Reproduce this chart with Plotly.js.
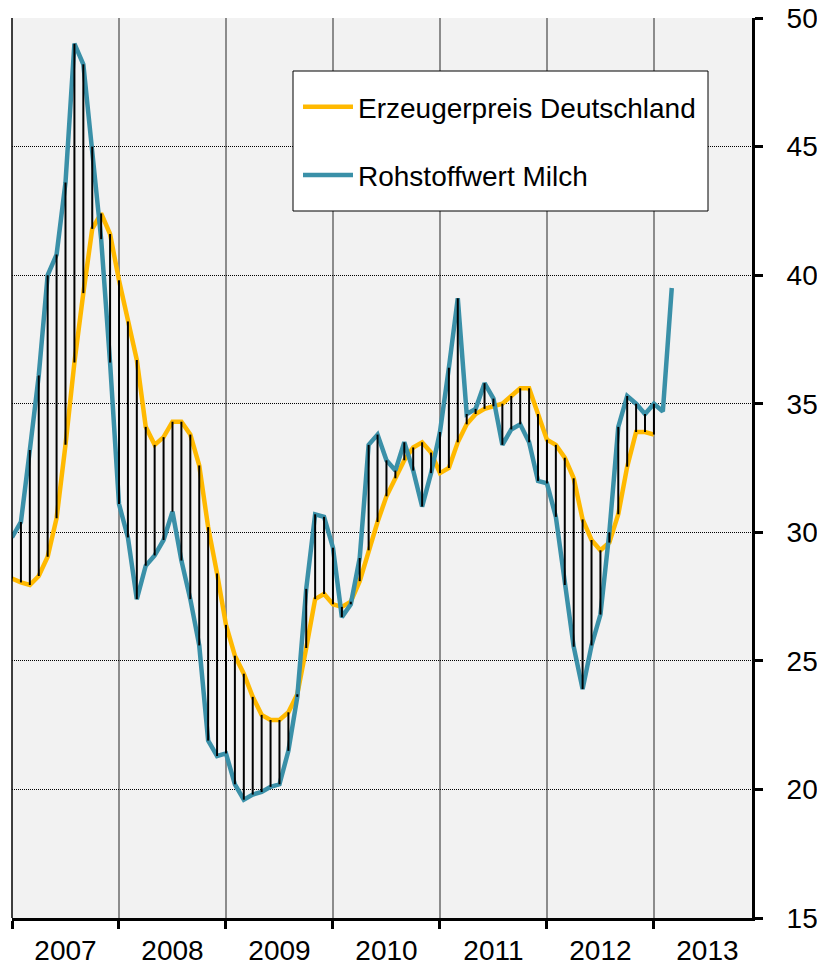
<!DOCTYPE html>
<html>
<head>
<meta charset="utf-8">
<script src="https://cdn.plot.ly/plotly-3.0.1.min.js"></script>
<style>
  html, body { margin: 0; padding: 0; background: #fff; }
  #chart { width: 817px; height: 966px; }
</style>
</head>
<body>
<div id="chart"></div>
<script>
// Monatswerte ab Januar 2007 (Cent/kg)
const erzeugerpreis = [
  28.2, 28.05, 27.95, 28.3, 29.05, 30.55, 33.4, 36.6, 39.3, 41.8, 42.4, 41.6,
  39.8, 38.2, 36.7, 34.1, 33.4, 33.7, 34.3, 34.3, 33.8, 32.6, 30.2, 28.4,
  26.4, 25.2, 24.5, 23.6, 22.9, 22.7, 22.7, 23.0, 23.7, 25.5, 27.4, 27.6,
  27.2, 27.1, 27.3, 28.1, 29.3, 30.4, 31.4, 32.1, 32.8, 33.3, 33.5, 33.1,
  32.3, 32.5, 33.5, 34.2, 34.6, 34.8, 34.9, 35.0, 35.3, 35.6, 35.6, 34.6,
  33.6, 33.4, 32.9, 32.1, 30.5, 29.7, 29.3, 29.6, 30.7, 32.55, 33.9, 33.9,
  33.8
];

const rohstoffwert = [
  29.8, 30.4, 33.2, 36.1, 40.0, 40.8, 43.6, 49.0, 48.2, 45.0, 41.4, 36.6,
  31.1, 29.8, 27.4, 28.7, 29.1, 29.7, 30.8, 28.9, 27.4, 25.6, 21.9, 21.3,
  21.4, 20.2, 19.6, 19.8, 19.9, 20.1, 20.2, 21.5, 23.6, 27.8, 30.7, 30.6,
  29.4, 26.7, 27.2, 29.0, 33.4, 33.8, 32.8, 32.4, 33.5, 32.4, 31.0, 32.3,
  33.9, 36.4, 39.1, 34.6, 34.8, 35.8, 35.2, 33.4, 34.0, 34.2, 33.5, 32.0,
  31.9, 30.6, 27.95, 25.55, 23.9, 25.6, 26.8, 30.0, 34.1, 35.3, 35.0, 34.6,
  35.0, 34.7, 39.5
];

const years = ["2007", "2008", "2009", "2010", "2011", "2012", "2013"];
const yearLabelPos = [6, 18, 30, 42, 54, 66, 78];
const yearStarts = [0, 12, 24, 36, 48, 60, 72];

const FONT = "Liberation Sans, Arial, sans-serif";
const GELB = "#FFB900";
const BLAU = "#3A90A8";

// Monatsindex als x-Werte
const monate = rohstoffwert.map((_, i) => i);

// Senkrechte Verbindungslinien zwischen beiden Reihen
const dropX = [];
const dropY = [];
erzeugerpreis.forEach((v, i) => {
  dropX.push(i, i, null);
  dropY.push(v, rohstoffwert[i], null);
});

const traceErzeuger = {
  x: monate.slice(0, erzeugerpreis.length),
  y: erzeugerpreis,
  mode: "lines",
  name: "Erzeugerpreis Deutschland",
  legendgroup: "a",
  line: { color: GELB, width: 4.5 },
  hoverinfo: "skip",
};

const traceRohstoff = {
  x: monate,
  y: rohstoffwert,
  mode: "lines",
  name: "Rohstoffwert Milch",
  legendgroup: "b",
  line: { color: BLAU, width: 4.5 },
  hoverinfo: "skip",
};

const traceDrop = {
  x: dropX,
  y: dropY,
  mode: "lines",
  showlegend: false,
  line: { color: "#000", width: 2 },
  hoverinfo: "skip",
  connectgaps: false,
};

// Unsichtbare Spur, damit die zweite x-Achse (Jahresbeschriftung) gezeichnet wird
const traceLabels = {
  x: [0, 83],
  y: [15, 15],
  xaxis: "x2",
  mode: "markers",
  marker: { opacity: 0 },
  showlegend: false,
  hoverinfo: "skip",
};

// Legendenrahmen in Pixeln der Plotfläche (12..752, 18..918)
const px = (x) => (x - 12) / 740;
const py = (y) => (918 - y) / 900;

const layout = {
  width: 817,
  height: 966,
  margin: { l: 12, r: 65, t: 18, b: 48 },
  paper_bgcolor: "#fff",
  plot_bgcolor: "#f2f2f2",
  font: { family: FONT, size: 28, color: "#000" },
  showlegend: true,
  legend: {
    x: px(298),
    y: py(82),
    xanchor: "left",
    yanchor: "top",
    bgcolor: "rgba(0,0,0,0)",
    borderwidth: 0,
    itemwidth: 50,
    font: { family: FONT, size: 28, color: "#000" },
    traceorder: "grouped",
    tracegroupgap: 29,
  },
  xaxis: {
    range: [0, 83],
    showgrid: true,
    gridcolor: "#8c8c8c",
    gridwidth: 1.5,
    tickmode: "array",
    tickvals: yearStarts,
    showticklabels: false,
    ticks: "outside",
    ticklen: 8,
    tickwidth: 3,
    tickcolor: "#000",
    showline: true,
    linecolor: "#000",
    linewidth: 3,
    zeroline: false,
    fixedrange: true,
  },
  xaxis2: {
    overlaying: "x",
    anchor: "y",
    side: "bottom",
    range: [0, 83],
    tickmode: "array",
    tickvals: yearLabelPos,
    ticktext: years,
    ticks: "",
    showgrid: false,
    showline: false,
    zeroline: false,
    ticklabelstandoff: 13,
    tickfont: { family: FONT, size: 28, color: "#000" },
    fixedrange: true,
  },
  yaxis: {
    side: "right",
    range: [15, 50],
    tickmode: "linear",
    tick0: 15,
    dtick: 5,
    showgrid: true,
    gridcolor: "#000",
    gridwidth: 1,
    griddash: "1px,1px",
    ticks: "outside",
    ticklen: 8,
    tickwidth: 3,
    tickcolor: "#000",
    showline: true,
    linecolor: "#000",
    linewidth: 3,
    zeroline: false,
    ticklabelstandoff: 18,
    tickfont: { family: FONT, size: 28, color: "#000" },
    fixedrange: true,
  },
  shapes: [
    {
      type: "line",
      xref: "paper",
      yref: "paper",
      x0: 0,
      x1: 0,
      y0: 0,
      y1: 1,
      line: { color: "#000", width: 1.5 },
    },
    {
      type: "rect",
      xref: "paper",
      yref: "paper",
      x0: px(293),
      x1: px(708),
      y0: py(211),
      y1: py(71),
      fillcolor: "#fff",
      line: { color: "#000", width: 1 },
      layer: "above",
    },
  ],
};

const config = { displayModeBar: false, staticPlot: true };

Plotly.newPlot(
  document.getElementById("chart"),
  [traceErzeuger, traceRohstoff, traceDrop, traceLabels],
  layout,
  config
);
</script>
</body>
</html>
